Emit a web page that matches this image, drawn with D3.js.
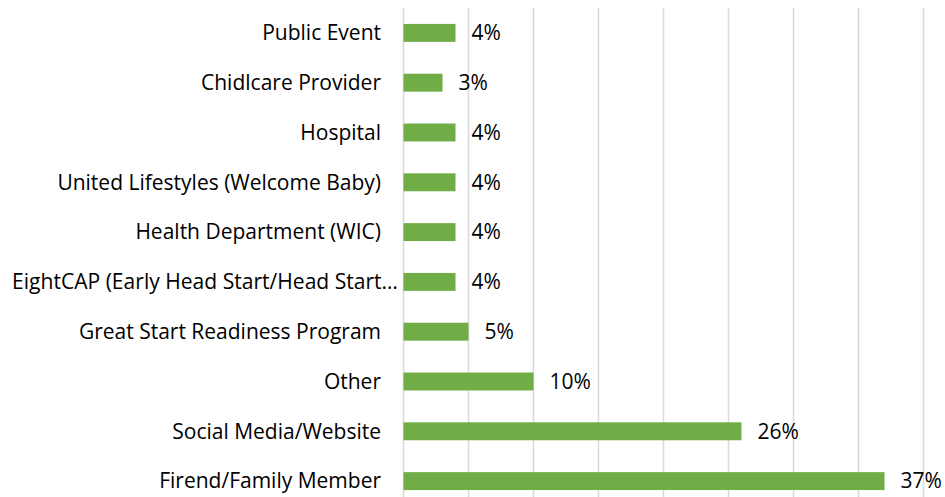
<!DOCTYPE html>
<html lang="en">
<head>
<meta charset="UTF-8">
<title>How did you hear about us</title>
<script src="https://d3js.org/d3.v7.min.js"></script>
<style>
    body {
        margin: 0;
        background: #fff;
        font-family: "Open Sans", Lato, sans-serif;
    }

    .label {
        font-size: 21px;
        fill: #000;
    }

    .grid line {
        stroke: #d9d9d9;
        stroke-width: 1.5px;
    }
</style>
</head>
<body>
<div id="chart"></div>
<script>
    // categories, top to bottom as in the picture
    const categories = [
        "Public Event",
        "Chidlcare Provider",
        "Hospital",
        "United Lifestyles (Welcome Baby)",
        "Health Department (WIC)",
        "EightCAP (Early Head Start/Head Start\u2026",
        "Great Start Readiness Program",
        "Other",
        "Social Media/Website",
        "Firend/Family Member"
    ];
    const values = [0.04, 0.03, 0.04, 0.04, 0.04, 0.04, 0.05, 0.10, 0.26, 0.37];
    const gridTicks = [0, 0.05, 0.10, 0.15, 0.20, 0.25, 0.30, 0.35, 0.40];

    const width = 945, height = 497;
    const plotLeft = 403.5, plotRight = 923.5;
    const plotTop = 8, plotBottom = 506;
    const labelRight = 381;

    const svg = d3.select("#chart")
        .append("svg")
        .attr("width", width)
        .attr("height", height);

    const x = d3.scaleLinear()
        .domain([0, 0.4])
        .range([plotLeft, plotRight]);

    const y = d3.scaleBand()
        .domain(categories)
        .range([plotTop, plotBottom])
        .paddingInner(0.64)
        .paddingOuter(0.32);

    // vertical gridlines
    svg.append("g")
        .attr("class", "grid")
        .selectAll("line")
        .data(gridTicks)
        .join("line")
        .attr("x1", d => x(d))
        .attr("x2", d => x(d))
        .attr("y1", plotTop)
        .attr("y2", plotBottom);

    // bars
    svg.append("g")
        .selectAll("rect")
        .data(values)
        .join("rect")
        .attr("x", x(0))
        .attr("y", (d, i) => y(categories[i]))
        .attr("width", d => x(d) - x(0))
        .attr("height", y.bandwidth())
        .attr("fill", "#70ad47");

    // value labels
    const fmt = d3.format(".0%");
    svg.append("g")
        .selectAll("text")
        .data(values)
        .join("text")
        .attr("class", "label")
        .attr("x", d => x(d) + 16)
        .attr("y", (d, i) => y(categories[i]) + y.bandwidth() / 2)
        .attr("dy", "0.35em")
        .text(d => fmt(d));

    // category labels
    const catLabels = svg.append("g")
        .selectAll("text")
        .data(categories)
        .join("text")
        .attr("class", "label")
        .attr("x", labelRight)
        .attr("y", d => y(d) + y.bandwidth() / 2)
        .attr("dy", "0.35em")
        .attr("text-anchor", "end")
        .text(d => d);

    // the truncated label runs wider than the others
    catLabels.each(function () {
        if (this.getComputedTextLength() > labelRight - 12) {
            d3.select(this)
                .attr("x", 12)
                .attr("text-anchor", "start")
                .attr("textLength", 386)
                .attr("lengthAdjust", "spacingAndGlyphs");
        }
    });
</script>
</body>
</html>
